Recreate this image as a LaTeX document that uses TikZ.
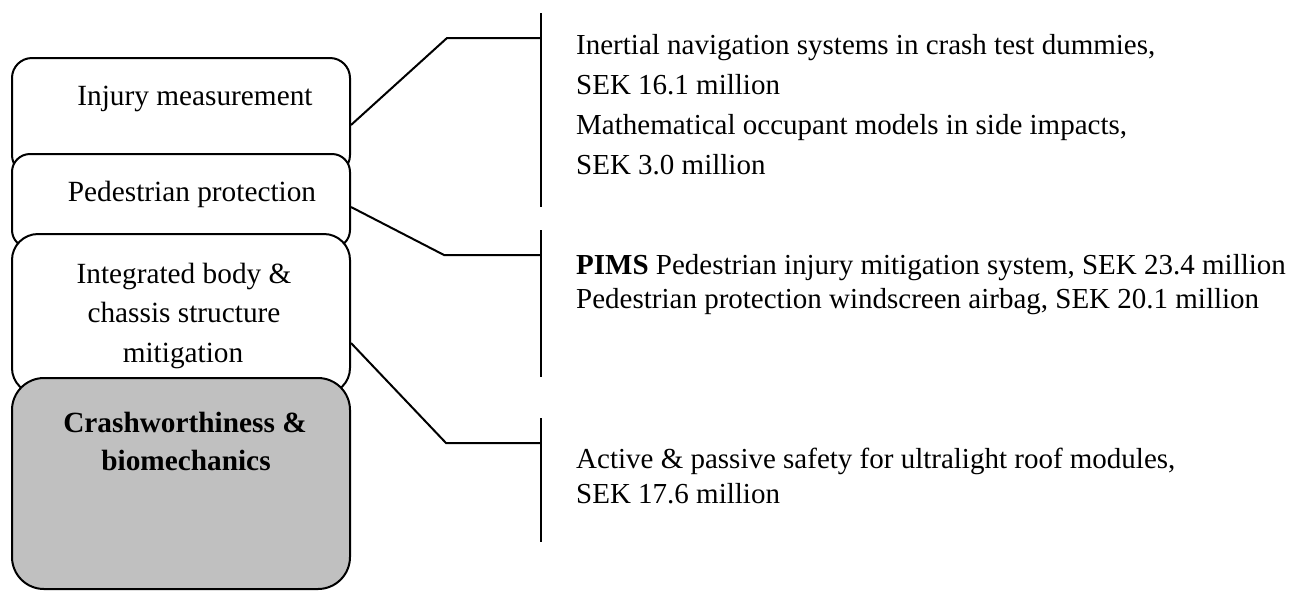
\documentclass[tikz,border=0pt]{standalone}
\usepackage{fontspec}
\setmainfont{Liberation Serif}
\definecolor{boxgray}{RGB}{192,192,192}
\begin{document}
\begin{tikzpicture}[x=1pt,y=-1pt,
  box/.style={draw=black, line width=2pt, fill=white, minimum width=338pt, inner sep=0pt},
  boxtxt/.style={font=\fontsize{29.3}{35}\selectfont, anchor=base, inner sep=0pt},
  rtxt/.style={font=\fontsize{29}{34}\selectfont, anchor=base west, inner sep=0pt},
  conn/.style={line width=2pt},
  bar/.style={line width=2.4pt}]
\useasboundingbox (0,0) rectangle (1298,590);
% boxes
\node[box, rounded corners=20pt, minimum height=117pt] (b1) at (181,116.5) {};
\node[box, rounded corners=18pt, minimum height=94pt] (b2) at (181,201) {};
\node[box, rounded corners=26pt, minimum height=160pt] (b3) at (181,314) {};
\node[box, fill=boxgray, rounded corners=32pt, minimum height=211pt] (b4) at (181,483.5) {};
% box texts
\node[boxtxt] (t1) at (195,105) {Injury measurement};
\node[boxtxt] (t2) at (192,201) {Pedestrian protection};
\node[boxtxt] (t3a) at (184,283) {Integrated body \&};
\node[boxtxt] (t3b) at (184,322) {chassis structure};
\node[boxtxt] (t3c) at (183,362) {mitigation};
\node[boxtxt, font=\fontsize{29.3}{35}\selectfont\bfseries] (t4a) at (185,432) {Crashworthiness \&};
\node[boxtxt, font=\fontsize{29.3}{35}\selectfont\bfseries] (t4b) at (186,470) {biomechanics};
% bars
\coordinate (v1t) at (541,13);  \coordinate (v1b) at (541,207);
\coordinate (v2t) at (541,230); \coordinate (v2b) at (541,377);
\coordinate (v3t) at (541,418); \coordinate (v3b) at (541,542);
\draw[bar] (v1t) -- (v1b);
\draw[bar] (v2t) -- (v2b);
\draw[bar] (v3t) -- (v3b);
% connectors
\coordinate (k1) at (447,38);  \coordinate (j1) at (541,38);
\coordinate (k2) at (444,255); \coordinate (j2) at (541,255);
\coordinate (k3) at (446,443); \coordinate (j3) at (541,443);
\draw[conn] ([yshift=-8.5pt]b1.east) -- (k1) -- (j1);
\draw[conn] ([yshift=-6pt]b2.east) -- (k2) -- (j2);
\draw[conn] ([yshift=-29pt]b3.east) -- (k3) -- (j3);
% right texts
\node[rtxt] (r1a) at (576,54) {Inertial navigation systems in crash test dummies,};
\node[rtxt] (r1b) at (576,94) {SEK 16.1 million};
\node[rtxt] (r1c) at (576,134) {Mathematical occupant models in side impacts,};
\node[rtxt] (r1d) at (576,174) {SEK 3.0 million};
\node[rtxt] (r2a) at (576,274) {\textbf{PIMS} Pedestrian injury mitigation system, SEK 23.4 million};
\node[rtxt] (r2b) at (576,308) {Pedestrian protection windscreen airbag, SEK 20.1 million};
\node[rtxt] (r3a) at (576,468) {Active \& passive safety for ultralight roof modules,};
\node[rtxt] (r3b) at (576,503) {SEK 17.6 million};
\end{tikzpicture}
\end{document}
